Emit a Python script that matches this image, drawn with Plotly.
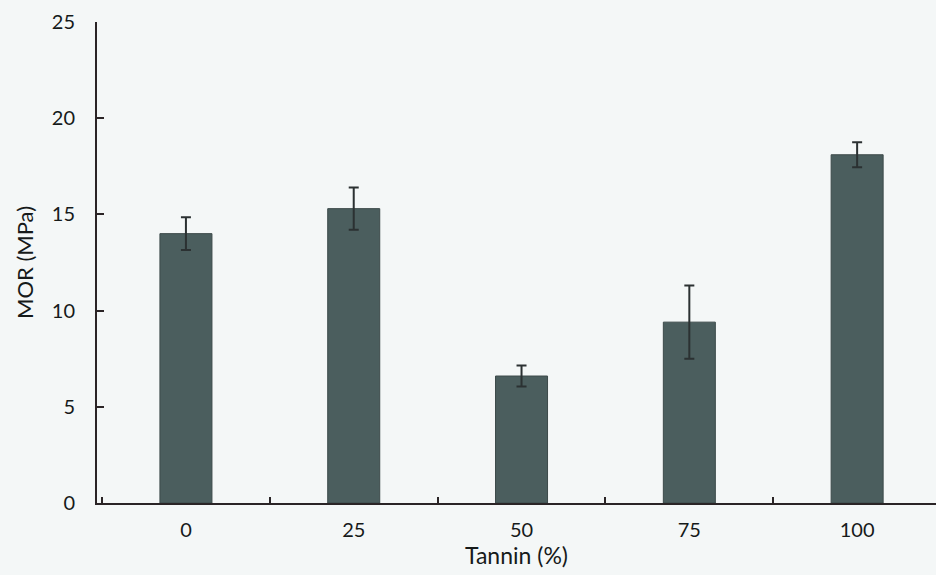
import plotly.graph_objects as go

categories = ["0", "25", "50", "75", "100"]
mor_values = [14.0, 15.3, 6.6, 9.4, 18.1]
mor_errors = [0.85, 1.1, 0.55, 1.9, 0.65]
y_ticks = [0, 5, 10, 15, 20, 25]

FONT = "Lato, 'Open Sans', sans-serif"
TXT = "#161a1a"

fig = go.Figure()
fig.add_trace(go.Bar(
    x=categories,
    y=mor_values,
    width=0.31,
    marker=dict(color="#4b5e5e", line=dict(color="#3c4a4a", width=1)),
    error_y=dict(type="data", array=mor_errors, visible=True,
                 color="#2b3132", thickness=2, width=5),
))

fig.update_layout(
    width=936, height=575,
    margin=dict(l=97, r=0, t=22, b=72),
    paper_bgcolor="#f4f7f7",
    plot_bgcolor="#f4f7f7",
    showlegend=False,
    font=dict(family=FONT, color=TXT, size=20),
    bargap=0.69,
)
fig.update_xaxes(
    type="category",
    range=[-0.53, 4.47],
    showline=True, linecolor="#2a2426", linewidth=2,
    ticks="inside", tickson="boundaries", ticklen=6, tickcolor="#2a2426", tickwidth=2,
    showgrid=False, zeroline=False,
    ticklabelstandoff=8,
    tickfont=dict(size=20, family=FONT, color=TXT),
    title=dict(text="Tannin (%)", font=dict(size=23, family=FONT, color=TXT), standoff=2),
)
fig.update_yaxes(
    range=[0, 25],
    tickvals=y_ticks,
    showline=True, linecolor="#2a2426", linewidth=2,
    ticks="inside", ticklen=7, tickcolor="#2a2426", tickwidth=2,
    showgrid=False, zeroline=False,
    ticklabelstandoff=16,
    tickfont=dict(size=20, family=FONT, color=TXT),
    title=dict(text="MOR (MPa)", font=dict(size=22, family=FONT, color=TXT), standoff=12),
)

fig.write_html("out.html")
